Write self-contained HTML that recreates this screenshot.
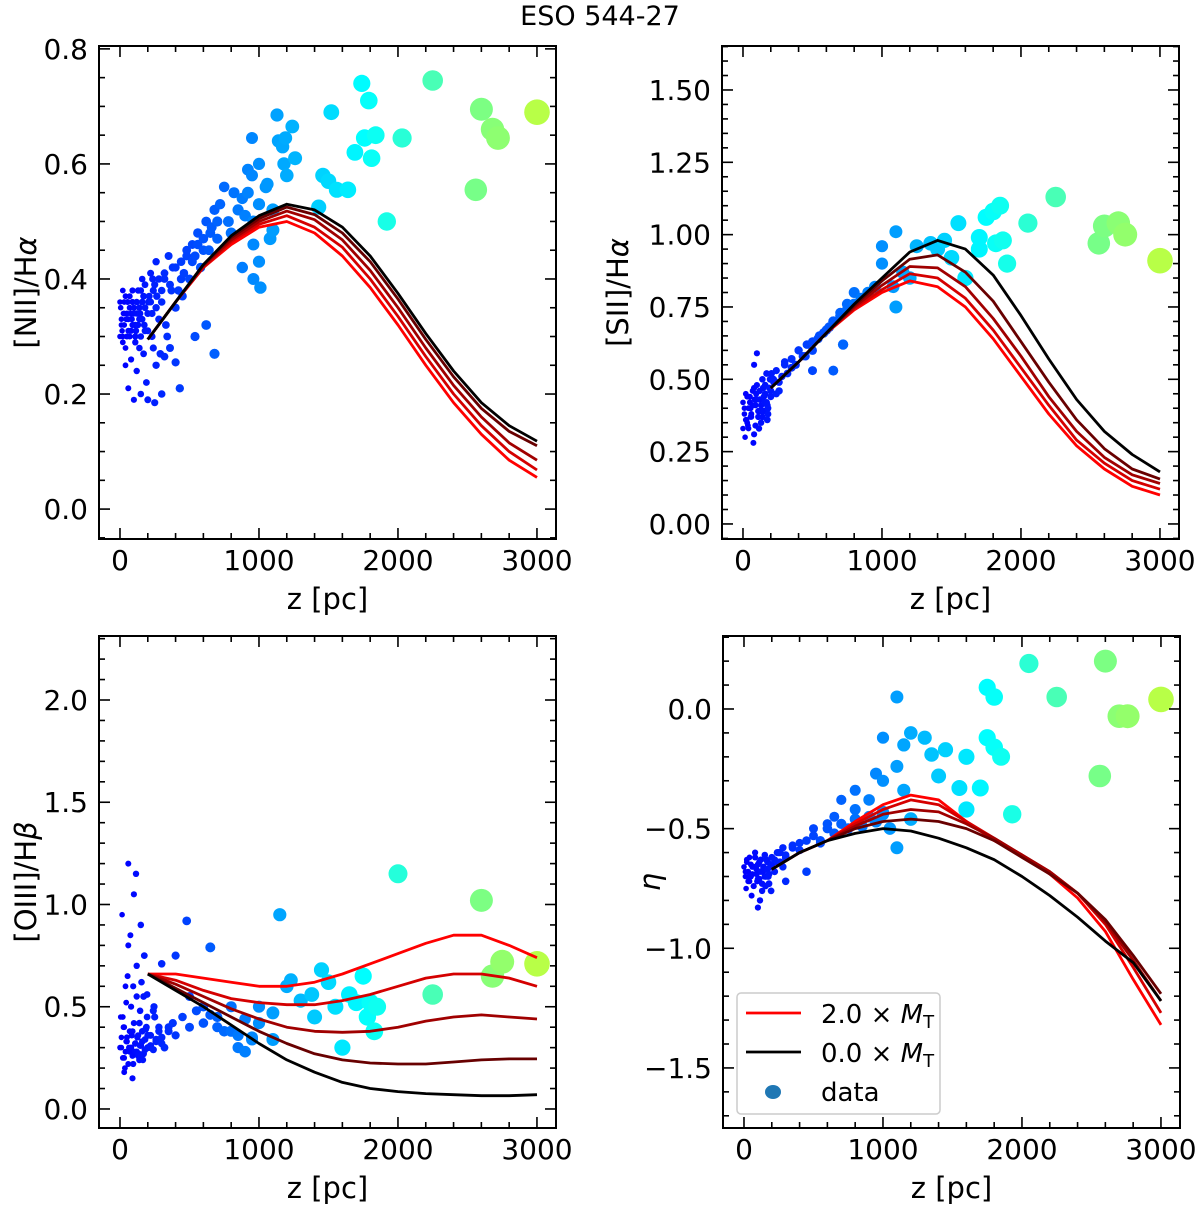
<!DOCTYPE html>
<html><head><meta charset="utf-8"><style>
html,body{margin:0;padding:0;background:#fff}
svg{display:block;font-family:"DejaVu Sans","Liberation Sans",sans-serif}
</style></head><body>
<svg id="fig" width="1200" height="1206" viewBox="0 0 1200 1206" xmlns="http://www.w3.org/2000/svg">
<text x="600" y="25" text-anchor="middle" font-size="27">ESO 544-27</text>
</svg>
<script>
// ---------- model data ----------
const modelZ = [200,400,600,800,1000,1200,1400,1600,1800,2000,2200,2400,2600,2800,3000];
const lineColors = ['#ff0000','#d40000','#a00000','#680000','#000000'];
const nii_m0 = [0.295,0.36,0.42,0.46,0.49,0.50,0.48,0.44,0.385,0.32,0.25,0.185,0.13,0.085,0.055];
const nii_m1 = [0.295,0.36,0.42,0.465,0.495,0.51,0.49,0.455,0.40,0.335,0.265,0.20,0.145,0.10,0.068];
const nii_m2 = [0.295,0.36,0.423,0.468,0.50,0.518,0.503,0.468,0.415,0.35,0.28,0.215,0.16,0.115,0.085];
const nii_m3 = [0.295,0.36,0.425,0.472,0.505,0.525,0.512,0.48,0.43,0.365,0.295,0.23,0.175,0.135,0.11];
const nii_m4 = [0.295,0.36,0.425,0.475,0.51,0.53,0.52,0.49,0.44,0.375,0.305,0.24,0.185,0.145,0.118];
const sii_m0 = [0.47,0.56,0.66,0.74,0.80,0.84,0.82,0.75,0.64,0.51,0.38,0.27,0.19,0.13,0.10];
const sii_m1 = [0.47,0.56,0.66,0.745,0.81,0.865,0.85,0.78,0.67,0.54,0.41,0.29,0.21,0.15,0.12];
const sii_m2 = [0.47,0.56,0.66,0.75,0.825,0.89,0.885,0.82,0.71,0.58,0.44,0.32,0.23,0.17,0.14];
const sii_m3 = [0.47,0.56,0.66,0.755,0.84,0.915,0.93,0.87,0.77,0.63,0.49,0.36,0.26,0.19,0.155];
const sii_m4 = [0.47,0.56,0.66,0.76,0.85,0.94,0.98,0.95,0.86,0.72,0.57,0.43,0.32,0.24,0.18];
const oiii_m0 = [0.66,0.66,0.64,0.62,0.60,0.60,0.62,0.66,0.71,0.76,0.81,0.85,0.85,0.80,0.74];
const oiii_m1 = [0.66,0.63,0.58,0.54,0.52,0.51,0.51,0.53,0.56,0.60,0.64,0.66,0.66,0.64,0.60];
const oiii_m2 = [0.66,0.61,0.55,0.49,0.44,0.40,0.38,0.375,0.38,0.40,0.43,0.45,0.46,0.45,0.44];
const oiii_m3 = [0.66,0.59,0.52,0.45,0.38,0.32,0.27,0.24,0.225,0.22,0.22,0.23,0.24,0.245,0.245];
const oiii_m4 = [0.66,0.58,0.50,0.41,0.32,0.24,0.18,0.13,0.10,0.085,0.075,0.07,0.065,0.065,0.07];
const eta_m0 = [-0.67,-0.60,-0.55,-0.47,-0.40,-0.36,-0.38,-0.47,-0.55,-0.61,-0.69,-0.79,-0.93,-1.13,-1.32];
const eta_m1 = [-0.67,-0.60,-0.55,-0.48,-0.42,-0.38,-0.40,-0.47,-0.54,-0.61,-0.68,-0.77,-0.90,-1.08,-1.27];
const eta_m2 = [-0.67,-0.60,-0.55,-0.49,-0.44,-0.42,-0.43,-0.48,-0.54,-0.61,-0.68,-0.77,-0.89,-1.05,-1.22];
const eta_m3 = [-0.67,-0.60,-0.55,-0.50,-0.47,-0.46,-0.47,-0.50,-0.55,-0.62,-0.69,-0.77,-0.88,-1.03,-1.19];
const eta_m4 = [-0.67,-0.60,-0.55,-0.52,-0.50,-0.51,-0.54,-0.58,-0.63,-0.70,-0.78,-0.87,-0.97,-1.06,-1.22];

// ---------- scatter data ----------
const nii_z = [10,20,30,40,50,60,70,80,90,100,110,120,130,140,150,160,170,180,190,200,210,220,230,240,250,260,280,300,320,340,350,370,380,400,20,40,60,100,150,200,250,300,30,70,120,180,90,140,230,5,15,45,80,110,160,260,290,330,360,420,440,460,480,500,520,540,560,580,600,620,640,660,680,700,720,750,780,800,820,850,880,900,920,950,960,1000,1050,1100,1080,430,400,320,540,620,450,680,880,960,1010,1000,1100,960,1000,950,920,1130,1190,1140,1170,1180,1200,1260,1240,1460,1500,1560,1640,1520,1740,1790,1690,1760,1840,1810,1920,2030,2250,2600,2680,2720,2560,3000,1060,1430];
const nii_y = [0.33,0.30,0.36,0.28,0.34,0.31,0.37,0.26,0.32,0.35,0.29,0.24,0.38,0.33,0.30,0.40,0.27,0.35,0.22,0.31,0.37,0.41,0.34,0.28,0.39,0.43,0.33,0.36,0.40,0.30,0.44,0.38,0.42,0.35,0.38,0.25,0.21,0.19,0.20,0.19,0.185,0.20,0.32,0.30,0.34,0.31,0.36,0.28,0.30,0.35,0.31,0.33,0.34,0.32,0.36,0.25,0.27,0.32,0.28,0.38,0.43,0.41,0.45,0.40,0.46,0.44,0.48,0.42,0.47,0.50,0.45,0.49,0.52,0.47,0.53,0.56,0.50,0.48,0.55,0.52,0.54,0.51,0.55,0.58,0.50,0.53,0.56,0.52,0.47,0.21,0.255,0.265,0.30,0.32,0.37,0.27,0.42,0.40,0.385,0.43,0.485,0.46,0.60,0.645,0.59,0.685,0.645,0.64,0.63,0.60,0.58,0.61,0.665,0.58,0.57,0.555,0.555,0.69,0.74,0.71,0.62,0.645,0.65,0.61,0.50,0.645,0.745,0.695,0.66,0.645,0.555,0.69,0.565,0.525];
const nii_z2 = [0,10,20,30,40,50,60,70,80,90,100,110,120,130,140,150,160,170,180,200,220,240,260,280,300,0,25,55,85,115,145,175,205,235,265,320,360,400,440,480,520,560,600,650,700];
const nii_y2 = [0.36,0.32,0.29,0.34,0.37,0.30,0.33,0.35,0.31,0.38,0.34,0.30,0.36,0.32,0.35,0.38,0.33,0.37,0.39,0.34,0.36,0.38,0.35,0.40,0.38,0.30,0.34,0.36,0.33,0.31,0.34,0.32,0.36,0.40,0.37,0.41,0.39,0.42,0.40,0.44,0.43,0.46,0.45,0.48,0.50];
const sii_z = [10,20,30,40,50,60,70,80,90,100,110,120,130,140,150,160,170,180,190,200,220,240,260,280,300,15,35,55,75,95,115,135,155,175,195,100,80,320,350,380,400,430,460,500,540,580,620,650,700,750,800,850,900,950,1000,1000,1080,1100,1150,1200,1100,1250,1350,1400,1450,1500,1550,1600,1700,1750,1800,1700,1820,1870,1900,1850,2050,2250,2600,2560,2700,2750,3000,500,650,720];
const sii_y = [0.40,0.36,0.44,0.33,0.42,0.38,0.46,0.31,0.41,0.48,0.37,0.43,0.35,0.50,0.39,0.45,0.52,0.40,0.47,0.44,0.49,0.53,0.46,0.51,0.55,0.30,0.34,0.37,0.28,0.45,0.33,0.39,0.42,0.36,0.50,0.59,0.55,0.52,0.57,0.55,0.60,0.58,0.62,0.60,0.64,0.66,0.68,0.70,0.72,0.74,0.76,0.78,0.80,0.82,0.96,0.90,0.82,0.75,0.87,0.85,1.01,0.96,0.97,0.95,0.98,0.92,1.04,0.85,0.95,1.06,1.08,0.99,0.97,0.98,0.90,1.10,1.04,1.13,1.03,0.97,1.04,1.00,0.91,0.53,0.53,0.62];
const sii_z2 = [0,10,20,30,40,50,60,70,80,90,100,110,120,130,140,150,160,170,180,200,220,240,260,0,25,55,85,115,145,175,205,300,350,400,450,500,550,600,650,700,750,800];
const sii_y2 = [0.42,0.38,0.45,0.35,0.40,0.44,0.37,0.41,0.47,0.34,0.43,0.39,0.46,0.41,0.37,0.44,0.48,0.42,0.38,0.46,0.50,0.45,0.49,0.33,0.36,0.40,0.43,0.39,0.47,0.41,0.52,0.56,0.54,0.60,0.58,0.63,0.65,0.67,0.70,0.73,0.76,0.80];
const oiii_z = [10,20,30,40,50,60,70,80,90,100,110,120,130,140,150,160,170,180,190,200,220,240,260,280,15,35,55,75,95,115,135,155,175,195,25,45,65,85,105,125,145,165,185,205,30,60,90,120,150,300,300,480,400,650,500,600,700,800,850,900,950,1000,1100,1100,1150,1200,1230,1300,1380,1450,1500,1550,1600,1650,1700,1750,1780,1800,1830,1850,2000,2250,2600,2680,2750,3000,1400,350,250];
const oiii_y = [0.30,0.45,0.25,0.60,0.35,0.80,0.28,0.50,0.38,1.05,0.32,0.70,0.26,0.42,0.90,0.33,0.55,0.29,0.40,0.36,0.31,0.48,0.34,0.38,0.95,0.20,0.65,0.85,0.22,1.15,0.27,0.62,0.75,0.45,0.40,0.33,0.30,0.36,0.28,0.35,0.31,0.24,0.39,0.30,0.18,1.20,0.15,0.55,0.26,0.71,0.32,0.92,0.75,0.79,0.55,0.50,0.45,0.38,0.30,0.28,0.35,0.50,0.47,0.34,0.95,0.60,0.63,0.53,0.56,0.68,0.62,0.50,0.30,0.56,0.52,0.65,0.45,0.52,0.38,0.50,1.15,0.56,1.02,0.65,0.72,0.71,0.45,0.40,0.45];
const oiii_z2 = [0,10,20,30,40,50,60,70,80,90,100,110,120,130,140,150,160,170,180,200,220,240,260,280,300,320,350,380,400,450,500,550,600,650,700,750,800,850,900,950,1000,5,45,95,145,195,245];
const oiii_y2 = [0.30,0.35,0.25,0.40,0.28,0.33,0.22,0.38,0.30,0.26,0.42,0.32,0.28,0.36,0.24,0.31,0.38,0.27,0.34,0.30,0.36,0.29,0.33,0.40,0.35,0.30,0.38,0.42,0.36,0.45,0.40,0.48,0.42,0.46,0.40,0.38,0.50,0.36,0.44,0.34,0.42,0.45,0.52,0.60,0.48,0.56,0.50];
const eta_z = [10,20,30,40,50,60,70,80,90,100,110,120,130,140,150,160,170,180,190,200,220,240,260,280,300,15,35,55,75,95,115,135,155,175,195,100,300,450,300,400,550,600,700,800,800,900,950,1000,1050,1100,1200,1150,1000,950,1100,1150,1200,1300,1350,1100,1000,1400,1550,1600,1700,1600,1450,1750,1800,1850,1750,1800,1930,2050,2250,2600,2560,2700,2760,3000,500,650,350,250];
const eta_y = [-0.68,-0.64,-0.72,-0.62,-0.70,-0.66,-0.74,-0.60,-0.69,-0.65,-0.71,-0.63,-0.76,-0.67,-0.61,-0.70,-0.64,-0.73,-0.66,-0.62,-0.68,-0.64,-0.60,-0.66,-0.62,-0.75,-0.70,-0.78,-0.66,-0.72,-0.80,-0.68,-0.74,-0.70,-0.76,-0.83,-0.72,-0.68,-0.62,-0.56,-0.55,-0.48,-0.38,-0.34,-0.42,-0.38,-0.47,-0.43,-0.50,-0.58,-0.46,-0.34,-0.30,-0.27,-0.24,-0.15,-0.10,-0.12,-0.19,0.05,-0.12,-0.28,-0.33,-0.42,-0.33,-0.20,-0.17,-0.12,-0.16,-0.20,0.09,0.05,-0.44,0.19,0.05,0.20,-0.28,-0.03,-0.03,0.04,-0.50,-0.45,-0.58,-0.60];
const eta_z2 = [0,10,20,30,40,50,60,70,80,90,100,110,120,130,140,150,160,170,180,200,220,240,260,280,300,350,400,450,500,550,600,650,700,750,800,850,900,950,1000];
const eta_y2 = [-0.66,-0.70,-0.63,-0.68,-0.72,-0.65,-0.69,-0.74,-0.62,-0.67,-0.71,-0.64,-0.68,-0.73,-0.66,-0.70,-0.63,-0.67,-0.69,-0.65,-0.63,-0.60,-0.64,-0.58,-0.61,-0.57,-0.59,-0.55,-0.53,-0.56,-0.50,-0.52,-0.48,-0.50,-0.46,-0.49,-0.45,-0.47,-0.44];

// ---------- tick labels ----------
const xTicks = [0,1000,2000,3000];
const niiTicks = [0.0,0.2,0.4,0.6,0.8];
const siiTicks = [0.00,0.25,0.50,0.75,1.00,1.25,1.50];
const oiiiTicks = [0.0,0.5,1.0,1.5,2.0];
const etaTicks = [-1.5,-1.0,-0.5,0.0];

const NS='http://www.w3.org/2000/svg';
const svg=document.getElementById('fig');
function mk(tag,attrs,parent){const e=document.createElementNS(NS,tag);for(const k in attrs)e.setAttribute(k,attrs[k]);(parent||svg).appendChild(e);return e;}
function jet(t){
  const c=v=>Math.max(0,Math.min(1,v));
  const r=c(1.5-Math.abs(4*t-3)),g=c(1.5-Math.abs(4*t-2)),b=c(1.5-Math.abs(4*t-1));
  return `rgb(${Math.round(r*255)},${Math.round(g*255)},${Math.round(b*255)})`;
}
function panel(o){
  const L=o.left,R=o.left+457,T=o.top,B=o.top+o.h;
  const xmin=-151,xmax=3137;
  const X=v=>L+(v-xmin)/(xmax-xmin)*(R-L);
  const Y=v=>B-(v-o.ymin)/(o.ymax-o.ymin)*(B-T);
  const g=mk('g',{});
  
  
  const cid='clip-'+o.name;
  const cp=mk('clipPath',{id:cid},g);mk('rect',{x:L,y:T,width:R-L,height:B-T},cp);
  const sg=mk('g',{'clip-path':`url(#${cid})`},g);
  
  
  const zs=o.zs.concat(o.zs2), ys=o.ys.concat(o.ys2);
  const idx=zs.map((_,i)=>i).sort((a,b)=>zs[a]-zs[b]);
  idx.forEach(i=>{
    const z=zs[i];
    const c=mk('circle',{cx:X(z).toFixed(1),cy:Y(ys[i]).toFixed(1),r:(2.8+z/300).toFixed(1),fill:jet(0.12+0.145*z/1000)},sg);
    
    
  });
  o.lines.forEach((arr,k)=>{
    const p=mk('polyline',{points:modelZ.map((z,i)=>X(z).toFixed(1)+','+Y(arr[i]).toFixed(1)).join(' '),fill:'none',stroke:lineColors[k],'stroke-width':2.8,'stroke-linejoin':'round'},sg);
    
    
  });
  mk('rect',{x:L,y:T,width:R-L,height:B-T,fill:'none',stroke:'#000','stroke-width':2},g);
  for(let v=0;v<=3000;v+=200){
    const major=v%1000===0,len=major?11:6,x=X(v);
    mk('line',{x1:x,y1:B,x2:x,y2:B-len,stroke:'#000','stroke-width':1.6},g);
    mk('line',{x1:x,y1:T,x2:x,y2:T+len,stroke:'#000','stroke-width':1.6},g);
  }
  xTicks.forEach(v=>{const t=mk('text',{x:X(v),y:B+31,'text-anchor':'middle','font-size':28},g);t.textContent=v;
    });
  const xl=mk('text',{x:(L+R)/2,y:B+70,'text-anchor':'middle','font-size':29},g);xl.textContent='z [pc]';
  
  const start=Math.ceil(o.ymin/o.minor-1e-6);
  for(let k=start;k*o.minor<=o.ymax+1e-9;k++){
    const v=k*o.minor,y=Y(v);
    const major=Math.abs(v/o.major-Math.round(v/o.major))<1e-6,len=major?11:6;
    mk('line',{x1:L,y1:y,x2:L+len,y2:y,stroke:'#000','stroke-width':1.6},g);
    mk('line',{x1:R,y1:y,x2:R-len,y2:y,stroke:'#000','stroke-width':1.6},g);
  }
  o.ticks.forEach(v=>{const t=mk('text',{x:L-11,y:Y(v)+10,'text-anchor':'end','font-size':28},g);
    t.textContent=v.toFixed(o.dec).replace('-','\u2212');
    });
  const yl=mk('text',{transform:`translate(${o.ylx},${(T+B)/2}) rotate(-90)`,'text-anchor':'middle','font-size':29},g);
  yl.innerHTML=o.ylabel;
  
}
panel({name:'nii-panel',left:99,top:46,h:493,ymin:-0.052,ymax:0.805,minor:0.05,major:0.2,ticks:niiTicks,dec:1,zs:nii_z,ys:nii_y,zs2:nii_z2,ys2:nii_y2,
  lines:[nii_m0,nii_m1,nii_m2,nii_m3,nii_m4],ylx:36,ylabel:'[NII]/H<tspan font-style="italic">α</tspan>'});
panel({name:'sii-panel',left:722,top:46,h:493,ymin:-0.052,ymax:1.652,minor:0.05,major:0.25,ticks:siiTicks,dec:2,zs:sii_z,ys:sii_y,zs2:sii_z2,ys2:sii_y2,
  lines:[sii_m0,sii_m1,sii_m2,sii_m3,sii_m4],ylx:628,ylabel:'[SII]/H<tspan font-style="italic">α</tspan>'});
panel({name:'oiii-panel',left:99,top:636,h:492,ymin:-0.093,ymax:2.313,minor:0.1,major:0.5,ticks:oiiiTicks,dec:1,zs:oiii_z,ys:oiii_y,zs2:oiii_z2,ys2:oiii_y2,
  lines:[oiii_m0,oiii_m1,oiii_m2,oiii_m3,oiii_m4],ylx:36,ylabel:'[OIII]/H<tspan font-style="italic">β</tspan>'});
panel({name:'eta-panel',left:723,top:636,h:492,ymin:-1.751,ymax:0.305,minor:0.1,major:0.5,ticks:etaTicks,dec:1,zs:eta_z,ys:eta_y,zs2:eta_z2,ys2:eta_y2,
  lines:[eta_m0,eta_m1,eta_m2,eta_m3,eta_m4],ylx:660,ylabel:'<tspan font-style="italic">η</tspan>'});
</script>
<svg style="position:absolute;left:0;top:0" width="1200" height="1206">
<rect x="737" y="993" width="203" height="121" rx="4" fill="#fff" fill-opacity="0.85" stroke="#ccc" stroke-width="1.5"/>
<line x1="746" y1="1013" x2="801" y2="1013" stroke="#ff0000" stroke-width="2.8"/>
<text x="821" y="1023" font-size="26" font-family="DejaVu Sans, sans-serif">2.0 × <tspan font-style="italic">M</tspan><tspan font-size="18" dy="5">T</tspan></text>
<line x1="746" y1="1052" x2="801" y2="1052" stroke="#000" stroke-width="2.8"/>
<text x="821" y="1062" font-size="26" font-family="DejaVu Sans, sans-serif">0.0 × <tspan font-style="italic">M</tspan><tspan font-size="18" dy="5">T</tspan></text>
<ellipse cx="773" cy="1092" rx="8" ry="7" fill="#1f77b4"/>
<text x="821" y="1101" font-size="26" font-family="DejaVu Sans, sans-serif">data</text>
</svg>
</body></html>
